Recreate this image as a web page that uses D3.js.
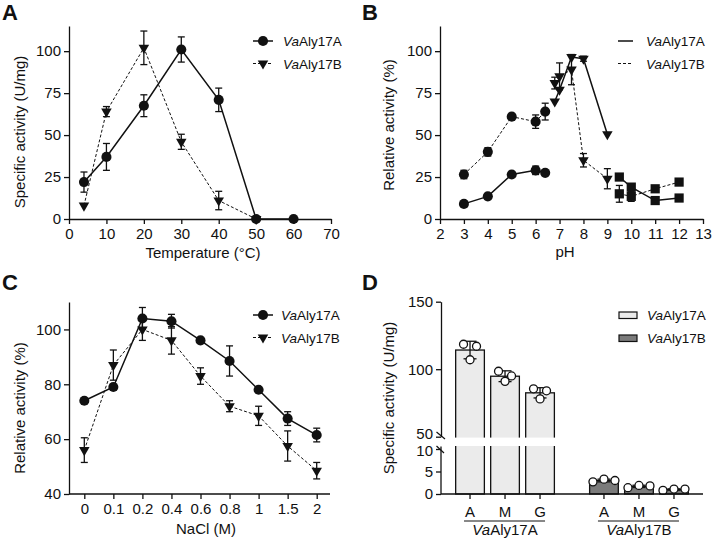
<!DOCTYPE html>
<html>
<head>
<meta charset="utf-8">
<script src="https://cdn.jsdelivr.net/npm/d3@7"></script>
<style>
  body { margin: 0; background: #fff; }
  svg { display: block; }
</style>
</head>
<body>
<div id="vis"></div>
<script>
// ---- data ----
// A: temperature
const temps = [4, 10, 20, 30, 40, 50, 60];
const tempA = [22, 37, 67.5, 101, 71, 0, 0];
const tempAErr = [6, 8, 6.5, 7.5, 7, 0, 0];
const tempB = [8, 64, 102, 46, 11, 0];
const tempBErr = [0, 3, 10, 4.5, 5.5, 0];

// B: pH, three buffer ranges
const phCitrate = [3, 4, 5, 6, 6.4];
const phPhosphate = [6.8, 7, 7.5, 8, 9];
const phGlycine = [9.5, 10, 11, 12];
const phA1 = [9, 13.5, 26.5, 29, 27.5];
const phA1Err = [1, 1, 1, 2.5, 1];
const phA2 = [70, 77, 96.5, 95.5, 50.5];
const phA2Err = [0, 0, 0, 1.5, 0];
const phA3 = [25, 19, 11, 12.5];
const phA3Err = [0, 0, 0, 0];
const phB1 = [26.5, 40, 61, 58, 64];
const phB1Err = [2.5, 2.5, 1, 4, 5];
const phB2 = [81, 85, 89, 35, 24];
const phB2Err = [3.5, 8, 9, 4, 6];
const phB3 = [15, 13.5, 18, 22];
const phB3Err = [5, 3, 1, 1];

// C: NaCl
const naclLabels = ['0', '0.1', '0.2', '0.4', '0.6', '0.8', '1', '1.5', '2'];
const naclA = [74, 79, 104, 103, 96, 88.5, 78, 67.5, 61.5];
const naclAErr = [0, 1, 4, 2.5, 0.5, 5.5, 0.5, 2.5, 2.5];
const naclB = [56, 87, 100, 96, 83, 72, 68.5, 57.5, 48.5];
const naclBErr = [4.5, 5.5, 4, 5, 3, 2, 3.5, 5.5, 3];

// D: substrate specificity
const substrates = ['A', 'M', 'G'];
const enzymes = ['VaAly17A', 'VaAly17B'];
const subA = [114.2, 94.8, 82.5];
const subAErr = [6.5, 4, 3.8];
const subAReps = [[118.5, 107, 117], [98.5, 91, 95], [85.5, 78, 84]];
const subB = [3.0, 1.7, 1.0];
const subBErr = [0.3, 0.25, 0.15];
const subBReps = [[2.7, 3.3, 3.0], [1.4, 1.9, 1.8], [0.8, 1.1, 1.1]];

// ---- setup ----
const font = 'Liberation Sans, Arial, Helvetica, sans-serif';
const ink = '#111';
const tickFont = '15px';
const titleFont = '15px';

const svg = d3.select('#vis')
    .append('svg')
    .attr('width', 713)
    .attr('height', 543)
    .style('font-family', font);

svg.append('rect').attr('width', 713).attr('height', 543).attr('fill', '#fff');

function styleAxis(g) {
    g.selectAll('path, line').attr('stroke', ink).attr('stroke-width', 1.3);
    g.selectAll('text').attr('fill', ink).style('font-size', tickFont).style('font-family', font);
}

function panelLetter(x, y, t) {
    svg.append('text').attr('x', x).attr('y', y).text(t)
        .style('font-size', '22px').style('font-weight', 'bold').attr('fill', ink);
}

function yTitle(cx, cy, t) {
    svg.append('text')
        .attr('transform', `translate(${cx},${cy}) rotate(-90)`)
        .attr('text-anchor', 'middle')
        .style('font-size', titleFont).attr('fill', ink)
        .text(t);
}

function xTitle(cx, y, t) {
    svg.append('text').attr('x', cx).attr('y', y)
        .attr('text-anchor', 'middle')
        .style('font-size', titleFont).attr('fill', ink)
        .text(t);
}

function enzymeLabel(sel, name) {
    sel.append('tspan').style('font-style', 'italic').text(name.slice(0, 2));
    sel.append('tspan').text(name.slice(2));
}

const circleSym = d3.symbol().type(d3.symbolCircle).size(80);
const triSym = d3.symbol().type(d3.symbolTriangle).size(48);
const squareSym = d3.symbol().type(d3.symbolSquare).size(85);

function drawSeries(g, xs, ys, errs, xScale, yScale, sym, dashed, rot) {
    const pts = xs.map((x, i) => ({ x: x, y: ys[i], e: errs[i] }));
    g.append('path')
        .datum(pts)
        .attr('fill', 'none')
        .attr('stroke', ink)
        .attr('stroke-width', dashed ? 1 : 1.5)
        .attr('stroke-dasharray', dashed ? '3,2' : null)
        .attr('d', d3.line().x(d => xScale(d.x)).y(d => yScale(d.y)));
    const eb = g.append('g').attr('stroke', ink).attr('stroke-width', 1.3);
    pts.filter(d => d.e > 0).forEach(d => {
        const cx = xScale(d.x);
        const y1 = yScale(d.y + d.e), y2 = yScale(d.y - d.e);
        eb.append('line').attr('x1', cx).attr('x2', cx).attr('y1', y1).attr('y2', y2);
        eb.append('line').attr('x1', cx - 3.5).attr('x2', cx + 3.5).attr('y1', y1).attr('y2', y1);
        eb.append('line').attr('x1', cx - 3.5).attr('x2', cx + 3.5).attr('y1', y2).attr('y2', y2);
    });
    g.append('g').selectAll('path')
        .data(pts)
        .join('path')
        .attr('d', sym)
        .attr('fill', ink)
        .attr('transform', d => `translate(${xScale(d.x)},${yScale(d.y)})${rot ? ' rotate(180)' : ''}`);
}

function lineLegend(x, y, withMarkers) {
    const rows = [{ name: enzymes[0], dashed: false, sym: circleSym, rot: false },
                  { name: enzymes[1], dashed: true, sym: triSym, rot: true }];
    rows.forEach((r, i) => {
        const yy = y + i * 22.5;
        svg.append('line')
            .attr('x1', x.l0).attr('x2', x.l1).attr('y1', yy).attr('y2', yy)
            .attr('stroke', ink).attr('stroke-width', r.dashed ? 1 : 1.5)
            .attr('stroke-dasharray', r.dashed ? '3,2' : null);
        if (withMarkers) {
            svg.append('path').attr('d', r.sym)
                .attr('transform', `translate(${(x.l0 + x.l1) / 2},${yy})${r.rot ? ' rotate(180)' : ''}`)
                .attr('fill', ink);
        }
        const t = svg.append('text').attr('x', x.t).attr('y', yy + 5)
            .style('font-size', '13.5px').attr('fill', ink);
        enzymeLabel(t, r.name);
    });
}

// ---- Panel A ----
{
    const x = d3.scaleLinear().domain([0, 70]).range([69, 331]);
    const y = d3.scaleLinear().domain([0, 115]).range([219, 26]);
    const g = svg.append('g');
    g.append('g').attr('transform', 'translate(0,219)')
        .call(d3.axisBottom(x).tickValues(d3.range(0, 71, 10)).tickSize(5).tickSizeOuter(0).tickPadding(4))
        .call(styleAxis);
    g.append('g').attr('transform', 'translate(69,0)')
        .call(d3.axisLeft(y).tickValues([0, 25, 50, 75, 100]).tickSize(5).tickSizeOuter(0).tickPadding(3))
        .call(styleAxis);
    drawSeries(g, temps.slice(0, tempB.length), tempB, tempBErr, x, y, triSym, true, true);
    drawSeries(g, temps, tempA, tempAErr, x, y, circleSym, false, false);
    panelLetter(2, 20, 'A');
    yTitle(25, 132, 'Specific activity (U/mg)');
    xTitle(203, 258, 'Temperature (\u00B0C)');
    lineLegend({ l0: 253, l1: 273, t: 283 }, 41, true);
}

// ---- Panel B ----
{
    const x = d3.scaleLinear().domain([2, 13]).range([440, 703]);
    const y = d3.scaleLinear().domain([0, 115]).range([219, 26]);
    const g = svg.append('g');
    g.append('g').attr('transform', 'translate(0,219)')
        .call(d3.axisBottom(x).tickValues(d3.range(2, 14)).tickSize(5).tickSizeOuter(0).tickPadding(4))
        .call(styleAxis);
    g.append('g').attr('transform', 'translate(440,0)')
        .call(d3.axisLeft(y).tickValues([0, 25, 50, 75, 100]).tickSize(5).tickSizeOuter(0).tickPadding(3))
        .call(styleAxis);
    drawSeries(g, phCitrate, phB1, phB1Err, x, y, circleSym, true, false);
    drawSeries(g, phPhosphate, phB2, phB2Err, x, y, triSym, true, true);
    drawSeries(g, phGlycine, phB3, phB3Err, x, y, squareSym, true, false);
    drawSeries(g, phCitrate, phA1, phA1Err, x, y, circleSym, false, false);
    drawSeries(g, phPhosphate, phA2, phA2Err, x, y, triSym, false, true);
    drawSeries(g, phGlycine, phA3, phA3Err, x, y, squareSym, false, false);
    panelLetter(362, 20, 'B');
    yTitle(394, 125, 'Relative activity (%)');
    xTitle(565, 257, 'pH');
    lineLegend({ l0: 618, l1: 633, t: 646 }, 41, false);
}

// ---- Panel C ----
{
    const x = d3.scalePoint().domain(naclLabels).range([84.3, 316.7]);
    const y = d3.scaleLinear().domain([40, 110]).range([494, 302]);
    const g = svg.append('g');
    g.append('g').attr('transform', 'translate(0,494)')
        .call(d3.axisBottom(x).tickSize(5).tickPadding(4))
        .call(ax => ax.select('.domain').attr('d', 'M69,0H330'))
        .call(styleAxis);
    g.append('g').attr('transform', 'translate(69,0)')
        .call(d3.axisLeft(y).tickValues([40, 60, 80, 100]).tickSize(5).tickSizeOuter(0).tickPadding(3))
        .call(styleAxis);
    drawSeries(g, naclLabels, naclB, naclBErr, x, y, triSym, true, true);
    drawSeries(g, naclLabels, naclA, naclAErr, x, y, circleSym, false, false);
    panelLetter(2, 290, 'C');
    yTitle(25, 408, 'Relative activity (%)');
    xTitle(206, 534, 'NaCl (M)');
    lineLegend({ l0: 253, l1: 273, t: 281 }, 315, true);
}

// ---- Panel D ----
{
    const base = 494;
    const yUp = d3.scaleLinear().domain([50, 150]).range([436.7, 301.7]);
    const yLo = d3.scaleLinear().domain([0, 10]).range([base, 449]);
    const xGroup = d3.scaleBand().domain(enzymes).range([441, 703]).paddingInner(0.216).paddingOuter(0.086);
    const xSub = d3.scaleBand().domain(substrates).range([0, xGroup.bandwidth()]).paddingInner(0.18).paddingOuter(0.09);
    const fills = ['#ebebeb', '#7b7b7b'];
    const groups = [
        { name: enzymes[0], vals: subA, errs: subAErr, reps: subAReps, y: yUp, jit: [-6.5, 0, 6.5] },
        { name: enzymes[1], vals: subB, errs: subBErr, reps: subBReps, y: yLo, jit: [-11, 0, 11] }
    ];
    const g = svg.append('g');

    groups.forEach((grp, gi) => {
        const gx = xGroup(grp.name);
        g.append('g').selectAll('rect')
            .data(substrates)
            .join('rect')
            .attr('x', s => gx + xSub(s))
            .attr('width', xSub.bandwidth())
            .attr('y', (s, i) => grp.y(grp.vals[i]))
            .attr('height', (s, i) => base - grp.y(grp.vals[i]))
            .attr('fill', fills[gi])
            .attr('stroke', ink)
            .attr('stroke-width', 1.3);
    });

    // axis break band
    const gA = xGroup(enzymes[0]);
    g.append('rect').attr('x', 438).attr('width', gA + xSub('G') + xSub.bandwidth() + 3 - 438)
        .attr('y', 437.6).attr('height', 8.4).attr('fill', '#fff');

    groups.forEach((grp) => {
        const gx = xGroup(grp.name);
        substrates.forEach((s, i) => {
            const cx = gx + xSub(s) + xSub.bandwidth() / 2;
            const v = grp.vals[i], e = grp.errs[i];
            const y1 = grp.y(v + e), y2 = grp.y(v - e);
            const eb = g.append('g').attr('stroke', ink).attr('stroke-width', 1.3);
            eb.append('line').attr('x1', cx).attr('x2', cx).attr('y1', y1).attr('y2', y2);
            eb.append('line').attr('x1', cx - 6.5).attr('x2', cx + 6.5).attr('y1', y1).attr('y2', y1);
            eb.append('line').attr('x1', cx - 6.5).attr('x2', cx + 6.5).attr('y1', y2).attr('y2', y2);
            g.append('g').selectAll('circle')
                .data(grp.reps[i])
                .join('circle')
                .attr('cx', (d, j) => cx + grp.jit[j])
                .attr('cy', d => grp.y(d))
                .attr('r', 4)
                .attr('fill', '#fff')
                .attr('stroke', ink)
                .attr('stroke-width', 1.3);
        });
    });

    // y axes (two segments)
    g.append('g').attr('transform', 'translate(441,0)')
        .call(d3.axisLeft(yUp).tickValues([50, 100, 150]).tickSize(5).tickSizeOuter(0).tickPadding(3))
        .call(styleAxis);
    g.append('g').attr('transform', 'translate(441,0)')
        .call(d3.axisLeft(yLo).tickValues([0, 5, 10]).tickSize(5).tickSizeOuter(0).tickPadding(3))
        .call(ax => ax.select('.domain').attr('d', `M0,${base}V446.5`))
        .call(styleAxis);
    g.selectAll('.tick text').filter(function () { return this.textContent === '50'; }).attr('dy', '0.15em');
    g.selectAll('.tick text').filter(function () { return this.textContent === '10'; }).attr('dy', '0.45em');
    // break marks
    g.append('line').attr('x1', 436.5).attr('y1', 432).attr('x2', 445).attr('y2', 439)
        .attr('stroke', ink).attr('stroke-width', 1.2);
    g.append('line').attr('x1', 436.5).attr('y1', 446).attr('x2', 444).attr('y2', 453)
        .attr('stroke', ink).attr('stroke-width', 1.2);

    // x axis
    g.append('line').attr('x1', 441).attr('x2', 703).attr('y1', base).attr('y2', base)
        .attr('stroke', ink).attr('stroke-width', 1.3);
    groups.forEach((grp) => {
        const gx = xGroup(grp.name);
        const centers = substrates.map(s => gx + xSub(s) + xSub.bandwidth() / 2);
        centers.forEach((cx, i) => {
            g.append('line').attr('x1', cx).attr('x2', cx).attr('y1', base).attr('y2', base + 5)
                .attr('stroke', ink).attr('stroke-width', 1.3);
            g.append('text').attr('x', cx).attr('y', 517).attr('text-anchor', 'middle')
                .style('font-size', tickFont).attr('fill', ink).text(substrates[i]);
        });
        g.append('line').attr('x1', centers[0] - 6).attr('x2', centers[2] + 5)
            .attr('y1', 521).attr('y2', 521).attr('stroke', ink).attr('stroke-width', 1);
        const t = g.append('text').attr('x', (centers[0] + centers[2]) / 2).attr('y', 535)
            .attr('text-anchor', 'middle').style('font-size', titleFont).attr('fill', ink);
        enzymeLabel(t, grp.name);
    });

    // legend
    enzymes.forEach((name, i) => {
        const yy = 312 + i * 23;
        svg.append('rect').attr('x', 619).attr('y', yy).attr('width', 18).attr('height', 6.5)
            .attr('fill', fills[i]).attr('stroke', ink).attr('stroke-width', 1.2);
        const t = svg.append('text').attr('x', 647).attr('y', yy + 8)
            .style('font-size', '13.5px').attr('fill', ink);
        enzymeLabel(t, name);
    });

    panelLetter(362, 290, 'D');
    yTitle(394, 398, 'Specific activity (U/mg)');
}
</script>
</body>
</html>
